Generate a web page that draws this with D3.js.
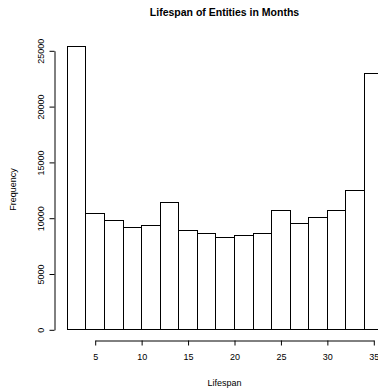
<!DOCTYPE html>
<html>
<head>
<meta charset="utf-8">
<script src="https://cdn.jsdelivr.net/npm/d3@7"></script>
<style>
  body { margin: 0; background: #fff; }
  svg { display: block; font-family: "Liberation Sans", Arial, sans-serif; }
</style>
</head>
<body>
<div id="chart"></div>
<script>
// histogram bins (months) and counts
var binStarts = [2, 4, 6, 8, 10, 12, 14, 16, 18, 20, 22, 24, 26, 28, 30, 32, 34];
var binWidth = 2;
var counts = [25360, 10390, 9770, 9140, 9320, 11380, 8900, 8650, 8300, 8480, 8650, 10690, 9530, 10090, 10720, 12450, 22940];
var xTicks = [5, 10, 15, 20, 25, 30, 35];
var yTicks = [0, 5000, 10000, 15000, 20000, 25000];

var svgWidth = 378;
var svgHeight = 389;

var svg = d3.select("#chart")
  .append("svg")
  .attr("width", svgWidth)
  .attr("height", svgHeight);

var xScale = d3.scaleLinear().domain([5, 35]).range([94.7, 373.3]);
var yScale = d3.scaleLinear().domain([0, 25000]).range([329.3, 50.3]);

// bars
svg.append("g")
  .selectAll("rect")
  .data(counts)
  .enter()
  .append("rect")
  .attr("x", (d, i) => Math.round(xScale(binStarts[i])) + 0.5)
  .attr("y", d => Math.round(yScale(d)) + 0.5)
  .attr("width", (d, i) => Math.round(xScale(binStarts[i] + binWidth)) - Math.round(xScale(binStarts[i])))
  .attr("height", d => Math.round(yScale(0)) - Math.round(yScale(d)))
  .attr("fill", "#fff")
  .attr("stroke", "#000")
  .attr("stroke-width", 1);

// x axis
var xAxis = d3.axisBottom(xScale).tickValues(xTicks).tickFormat(d3.format("d"))
  .tickSizeOuter(0).tickSizeInner(5).tickPadding(8);
var gx = svg.append("g")
  .attr("transform", "translate(0.5, 340.5)")
  .call(xAxis);
gx.selectAll("text").attr("font-size", "9px").attr("fill", "#000").attr("font-family", "Liberation Sans, Arial, sans-serif");

// y axis
var yAxis = d3.axisLeft(yScale).tickValues(yTicks).tickFormat(d3.format("d"))
  .tickSizeOuter(0).tickSizeInner(5).tickPadding(0);
var gy = svg.append("g")
  .attr("transform", "translate(54.5, 0.5)")
  .call(yAxis);
gy.selectAll("text")
  .attr("font-size", "9px")
  .attr("fill", "#000")
  .attr("font-family", "Liberation Sans, Arial, sans-serif")
  .attr("text-anchor", "middle")
  .attr("x", null)
  .attr("dy", null)
  .attr("transform", "translate(-11, 0) rotate(-90)");

svg.selectAll(".domain, .tick line").attr("stroke", "#000");

// title and labels
svg.append("text")
  .attr("x", 224.5)
  .attr("y", 15.5)
  .attr("text-anchor", "middle")
  .attr("font-size", "10.5px")
  .attr("font-weight", "bold")
  .text("Lifespan of Entities in Months");

svg.append("text")
  .attr("x", 224.5)
  .attr("y", 386)
  .attr("text-anchor", "middle")
  .attr("font-size", "9px")
  .text("Lifespan");

svg.append("text")
  .attr("transform", "translate(16, 189.5) rotate(-90)")
  .attr("text-anchor", "middle")
  .attr("font-size", "9px")
  .text("Frequency");
</script>
</body>
</html>
